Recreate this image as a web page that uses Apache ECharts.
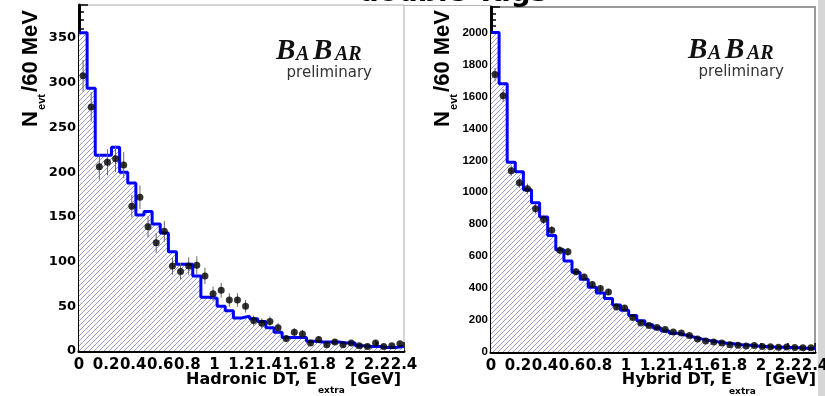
<!DOCTYPE html>
<html>
<head>
<meta charset="utf-8">
<script src="https://cdn.jsdelivr.net/npm/echarts@6/dist/echarts.min.js"></script>
<style>
html,body{margin:0;padding:0;background:#fff;}
#chart{width:825px;height:396px;}
</style>
</head>
<body>
<div id="chart"></div>
<script>
// ---- data ----
const binWidthGeV = 0.06;           // 60 MeV bins, 0 - 2.4 GeV
const xRange = [0, 2.4];
const xTickStep = 0.2;

// Hadronic double-tag: MC histogram (blue, hatched) and data points
const hadronicMC = [356, 294, 219, 219, 228, 200, 188, 152, 156, 142,
                    132, 111, 97, 97, 84, 60, 59, 50, 45, 37,
                    39, 36, 33, 26, 21, 15, 15, 15, 11, 10,
                    10, 10, 9, 9, 6, 5, 5, 4, 4, 5];
const hadronicData = [308, 273, 206, 211, 215, 208, 162, 172, 139, 121,
                      134, 95, 89, 95, 96, 84, 64, 68, 57, 57,
                      50, 34, 31, 33, 26, 14, 21, 19, 9, 13,
                      7, 10, 7, 9, 6, 5, 9, 5, 6, 8];
const hadronicYMax = 387;
const hadronicYStep = 50;

// Hybrid double-tag
const hybridMC = [2000, 1680, 1188, 1128, 1016, 934, 846, 730, 640, 570,
                  500, 455, 405, 370, 335, 295, 262, 228, 195, 170,
                  150, 132, 118, 106, 94, 82, 72, 64, 57, 51,
                  46, 42, 38, 35, 32, 30, 28, 26, 24, 22];
const hybridData = [1737, 1605, 1135, 1060, 1022, 897, 830, 762, 637, 627,
                    502, 470, 423, 398, 376, 282, 276, 216, 182, 166,
                    153, 141, 125, 119, 103, 81, 69, 63, 56, 45,
                    42, 38, 40, 35, 33, 30, 31, 28, 26, 27];
const hybridYMax = 2160;
const hybridYStep = 200;

const xTitles = ['Hadronic DT, E', 'Hybrid DT, E'];
const xSub = 'extra';
const xUnit = '[GeV]';
const yTitleMain = '/60 MeV';
const yTitleN = 'N';
const yTitleSub = 'evt';
const logoParts = ['B', 'A', 'B', 'AR'];
const logoSub = 'preliminary';
const topTitle = 'double Tags';

// ---- helpers ----
function stepData(vals) {
  const out = vals.map((v, i) => [i * binWidthGeV, v]);
  out.push([vals.length * binWidthGeV, vals[vals.length - 1]]);
  return out;
}
function pointData(vals) {
  return vals.map((v, i) => [(i + 0.5) * binWidthGeV, v]);
}
function errData(vals) {
  return vals.map((v, i) => [(i + 0.5) * binWidthGeV, v - Math.sqrt(v), v + Math.sqrt(v)]);
}

const hatch = (function () {
  const s = 5;
  const c = document.createElement('canvas');
  c.width = s; c.height = s;
  const g = c.getContext('2d');
  g.fillStyle = '#ffffff';
  g.fillRect(0, 0, s, s);
  g.strokeStyle = '#6c6cb4';
  g.lineWidth = 0.7;
  g.beginPath();
  g.moveTo(0, s); g.lineTo(s, 0);
  g.moveTo(-1, 1); g.lineTo(1, -1);
  g.moveTo(s - 1, s + 1); g.lineTo(s + 1, s - 1);
  g.stroke();
  return c;
})();

function plainNum(v) { return String(Math.round(v * 1000) / 1000); }

function xAxisCfg(gi) {
  return {
    type: 'value', gridIndex: gi, min: xRange[0], max: xRange[1], interval: xTickStep,
    axisLine: { show: true, onZero: false, lineStyle: { color: '#000', width: 3 } },
    axisTick: { show: true, inside: true, length: 9, lineStyle: { color: '#000', width: 1.5 } },
    minorTick: { show: true, splitNumber: 4, length: 5, lineStyle: { color: '#000', width: 1.5 } },
    axisLabel: { show: true, color: '#000', fontFamily: 'DejaVu Sans', fontWeight: 'bold', fontSize: 15,
                 margin: 7, hideOverlap: false, showMinLabel: true, showMaxLabel: true, formatter: plainNum },
    splitLine: { show: false }, minorSplitLine: { show: false }
  };
}
function yAxisCfg(gi, max, step, font, size) {
  return {
    type: 'value', gridIndex: gi, min: 0, max: max, interval: step,
    axisLine: { show: true, onZero: false, lineStyle: { color: '#000', width: 3 } },
    axisTick: { show: true, inside: true, length: 9, lineStyle: { color: '#000', width: 1.5 } },
    minorTick: { show: true, splitNumber: 5, length: 5, lineStyle: { color: '#000', width: 1.5 } },
    axisLabel: { show: true, color: '#000', fontFamily: font, fontWeight: 'bold', fontSize: size,
                 margin: 3, hideOverlap: false, showMinLabel: true, showMaxLabel: false, formatter: plainNum },
    splitLine: { show: false }, minorSplitLine: { show: false }
  };
}
function panelSeries(gi, mc, data) {
  return [
    {
      type: 'line', xAxisIndex: gi, yAxisIndex: gi, step: 'end', symbol: 'none',
      data: stepData(mc), z: 2,
      lineStyle: { color: '#0000ff', width: 3 },
      areaStyle: { color: { image: hatch, repeat: 'repeat' }, opacity: 1 },
      animation: false
    },
    {
      type: 'custom', xAxisIndex: gi, yAxisIndex: gi, z: 3,
      data: errData(data), encode: { x: 0, y: [1, 2] },
      renderItem: function (params, api) {
        const a = api.coord([api.value(0), api.value(1)]);
        const b = api.coord([api.value(0), api.value(2)]);
        return { type: 'line', shape: { x1: a[0], y1: a[1], x2: b[0], y2: b[1] },
                 style: { stroke: '#666', lineWidth: 1 } };
      },
      animation: false
    },
    {
      type: 'scatter', xAxisIndex: gi, yAxisIndex: gi, z: 4,
      data: pointData(data), symbol: 'circle', symbolSize: 7,
      itemStyle: { color: '#000' }, animation: false
    }
  ];
}

function txt(x, y, text, font, opts) {
  opts = opts || {};
  return {
    type: 'text', x: x, y: y, rotation: opts.rot || 0, z: 10,
    style: { text: text, font: font, fill: opts.fill || '#000',
             align: opts.align || 'left', verticalAlign: opts.va || 'middle' }
  };
}
function logo(rightX, baseY) {
  // B A B AR: big / small caps sharing a baseline, right aligned at rightX
  const bigF = 'bold italic 29px "Liberation Serif"';
  const smF = 'bold italic 20px "Liberation Serif"';
  const widths = [20, 17, 22, 37];
  const total = widths.reduce((s, w) => s + w, 0);
  let x = rightX - total;
  const els = [];
  logoParts.forEach((p, i) => {
    const big = (i % 2 === 0);
    els.push({
      type: 'text', x: x, y: big ? baseY - 10 : baseY - 7, z: 10,
      style: { text: p, font: big ? bigF : smF, fill: '#111', align: 'left', verticalAlign: 'middle' }
    });
    x += widths[i];
  });
  els.push(txt(rightX, baseY + 11, logoSub, '15px "DejaVu Sans"', { align: 'right', fill: '#333' }));
  return els;
}

const graphics = [].concat(
  [
    { type: 'rect', shape: { x: 818, y: 0, width: 7, height: 396 }, style: { fill: '#d6d6d6' }, z: 0 },
    { type: 'line', shape: { x1: 404, y1: 5.5, x2: 491, y2: 5.5 }, style: { stroke: '#b5b5b5', lineWidth: 1 }, z: 0 },
    txt(453, -6, topTitle, 'bold 28px "DejaVu Sans"', { align: 'center' }),
    // left x title
    txt(317, 380, xTitles[0], 'bold 16px "DejaVu Sans"', { align: 'right' }),
    txt(318, 391, xSub, 'bold 9px "DejaVu Sans"', { align: 'left' }),
    txt(350, 380, xUnit, 'bold 16px "DejaVu Sans"', { align: 'left' }),
    // right x title
    txt(732, 380, xTitles[1], 'bold 16px "DejaVu Sans"', { align: 'right' }),
    txt(729, 392, xSub, 'bold 9px "DejaVu Sans"', { align: 'left' }),
    txt(765, 380, xUnit, 'bold 16px "DejaVu Sans"', { align: 'left' }),
    // left y title (rotated)
    txt(30.5, 10, yTitleMain, 'bold 22px "Liberation Sans"', { align: 'right', rot: Math.PI / 2 }),
    txt(42, 94, yTitleSub, 'bold 11px "Liberation Sans"', { align: 'right', rot: Math.PI / 2 }),
    txt(30.5, 111, yTitleN, 'bold 22px "Liberation Sans"', { align: 'right', rot: Math.PI / 2 }),
    // right y title
    txt(442.5, 10, yTitleMain, 'bold 22px "Liberation Sans"', { align: 'right', rot: Math.PI / 2 }),
    txt(454, 94, yTitleSub, 'bold 11px "Liberation Sans"', { align: 'right', rot: Math.PI / 2 }),
    txt(442.5, 111, yTitleN, 'bold 22px "Liberation Sans"', { align: 'right', rot: Math.PI / 2 })
  ],
  logo(372, 62),
  logo(784, 61)
);

const chart = echarts.init(document.getElementById('chart'), null, { renderer: 'canvas' });
chart.setOption({
  animation: false,
  backgroundColor: '#ffffff',
  grid: [
    { left: 79, top: 5, width: 325, height: 346, show: true, borderColor: '#aaaaaa', borderWidth: 1,
      backgroundColor: 'transparent', containLabel: false, outerBoundsMode: 'none' },
    { left: 491, top: 7, width: 324, height: 345, show: true, borderColor: '#999999', borderWidth: 2,
      backgroundColor: 'transparent', containLabel: false, outerBoundsMode: 'none' }
  ],
  xAxis: [xAxisCfg(0), xAxisCfg(1)],
  yAxis: [
    yAxisCfg(0, hadronicYMax, hadronicYStep, 'DejaVu Sans', 13),
    yAxisCfg(1, hybridYMax, hybridYStep, 'Liberation Sans', 11.5)
  ],
  series: [].concat(panelSeries(0, hadronicMC, hadronicData), panelSeries(1, hybridMC, hybridData)),
  graphic: graphics
});
</script>
</body>
</html>
